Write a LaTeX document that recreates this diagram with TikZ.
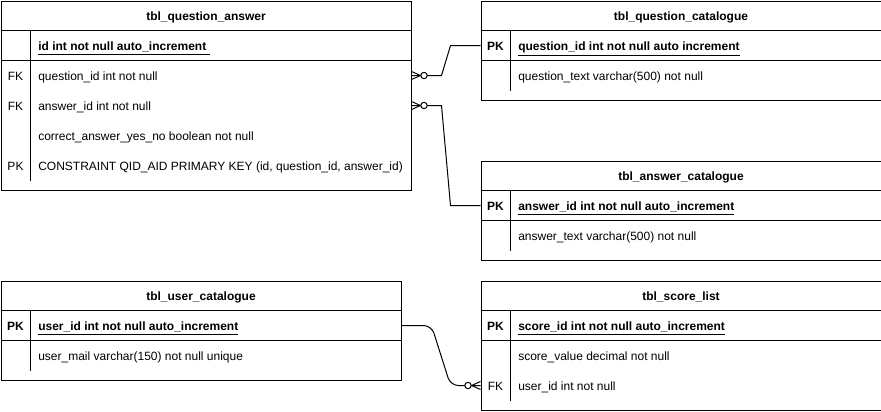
\documentclass[tikz,border=0pt]{standalone}
\usepackage{fontspec}
\setmainfont{Liberation Sans}
\usetikzlibrary{calc, positioning}

\begin{document}
\begin{tikzpicture}[
    x=0.75pt, y=-0.75pt,
    every node/.style={font=\fontsize{9}{11}\selectfont},
    tbl/.style={draw, line width=0.75pt, anchor=north west, inner sep=0pt},
    title/.style={inner sep=0pt, text height=8pt, text depth=0.5pt, font=\fontsize{9}{11}\selectfont\bfseries},
    key/.style={inner sep=0pt, text height=8pt, text depth=0.5pt},
    field/.style={anchor=west, inner sep=0pt, text height=8pt, text depth=0.5pt},
    rule/.style={line width=0.75pt},
    rel/.style={line width=0.75pt},
    zmany/.pic={
      \draw[rel] (0,-4) -- (9,0) -- (0,4);
      \draw[rel, fill=white] (12.5,0) circle[radius=2.4pt];
    },
]
\useasboundingbox (0,0) rectangle (881,411);

% tbl_question_answer
\node[tbl, minimum width=307.5pt, minimum height=142pt] (qa) at (0.5,0.5) {};
\node[title] (qa-title) at ($(qa.north)+(0,15)$) {tbl\_question\_answer};
\draw[rule] ($(qa.north west)+(0,30)$) -- ($(qa.north east)+(0,30)$);
\draw[rule] ($(qa.north west)+(0,60)$) -- ($(qa.north east)+(0,60)$);
\draw[rule] ($(qa.north west)+(30,30)$) -- ($(qa.north west)+(30,180)$);
\node[field] (qa-id) at ($(qa.north west)+(37.5,45)$) {\textbf{\underline{id int not null auto\_increment\ }}};
\node[key] (qa-k1) at ($(qa.north west)+(15,75)$) {FK};
\node[field] (qa-qid) at ($(qa.north west)+(37.5,75)$) {question\_id int not null};
\node[key] (qa-k2) at ($(qa.north west)+(15,105)$) {FK};
\node[field] (qa-aid) at ($(qa.north west)+(37.5,105)$) {answer\_id int not null};
\node[field] (qa-yn) at ($(qa.north west)+(37.5,135)$) {correct\_answer\_yes\_no boolean not null};
\node[key] (qa-k3) at ($(qa.north west)+(15,165)$) {PK};
\node[field] (qa-con) at ($(qa.north west)+(37.5,165)$) {CONSTRAINT QID\_AID PRIMARY KEY (id, question\_id, answer\_id)};

% tbl_question_catalogue
\node[tbl, minimum width=300pt, minimum height=74.5pt] (qc) at (480.5,0.5) {};
\node[title] (qc-title) at ($(qc.north)+(0,15)$) {tbl\_question\_catalogue};
\draw[rule] ($(qc.north west)+(0,30)$) -- ($(qc.north east)+(0,30)$);
\draw[rule] ($(qc.north west)+(0,60)$) -- ($(qc.north east)+(0,60)$);
\draw[rule] ($(qc.north west)+(30,30)$) -- ($(qc.north west)+(30,90)$);
\node[key, font=\fontsize{9}{11}\selectfont\bfseries] (qc-k1) at ($(qc.north west)+(15,45)$) {PK};
\node[field] (qc-id) at ($(qc.north west)+(37.5,45)$) {\textbf{\underline{question\_id int not null auto increment}}};
\node[field] (qc-txt) at ($(qc.north west)+(37.5,75)$) {question\_text varchar(500) not null};

% tbl_answer_catalogue
\node[tbl, minimum width=300pt, minimum height=74.5pt] (ac) at (480.5,160.5) {};
\node[title] (ac-title) at ($(ac.north)+(0,15)$) {tbl\_answer\_catalogue};
\draw[rule] ($(ac.north west)+(0,30)$) -- ($(ac.north east)+(0,30)$);
\draw[rule] ($(ac.north west)+(0,60)$) -- ($(ac.north east)+(0,60)$);
\draw[rule] ($(ac.north west)+(30,30)$) -- ($(ac.north west)+(30,90)$);
\node[key, font=\fontsize{9}{11}\selectfont\bfseries] (ac-k1) at ($(ac.north west)+(15,45)$) {PK};
\node[field] (ac-id) at ($(ac.north west)+(37.5,45)$) {\textbf{\underline{answer\_id int not null auto\_increment}}};
\node[field] (ac-txt) at ($(ac.north west)+(37.5,75)$) {answer\_text varchar(500) not null};

% tbl_user_catalogue
\node[tbl, minimum width=300pt, minimum height=74.5pt] (uc) at (0.5,280.5) {};
\node[title] (uc-title) at ($(uc.north)+(0,15)$) {tbl\_user\_catalogue};
\draw[rule] ($(uc.north west)+(0,30)$) -- ($(uc.north east)+(0,30)$);
\draw[rule] ($(uc.north west)+(0,60)$) -- ($(uc.north east)+(0,60)$);
\draw[rule] ($(uc.north west)+(30,30)$) -- ($(uc.north west)+(30,90)$);
\node[key, font=\fontsize{9}{11}\selectfont\bfseries] (uc-k1) at ($(uc.north west)+(15,45)$) {PK};
\node[field] (uc-id) at ($(uc.north west)+(37.5,45)$) {\textbf{\underline{user\_id int not null auto\_increment}}};
\node[field] (uc-mail) at ($(uc.north west)+(37.5,75)$) {user\_mail varchar(150) not null unique};

% tbl_score_list
\node[tbl, minimum width=300pt, minimum height=97pt] (sl) at (480.5,280.5) {};
\node[title] (sl-title) at ($(sl.north)+(0,15)$) {tbl\_score\_list};
\draw[rule] ($(sl.north west)+(0,30)$) -- ($(sl.north east)+(0,30)$);
\draw[rule] ($(sl.north west)+(0,60)$) -- ($(sl.north east)+(0,60)$);
\draw[rule] ($(sl.north west)+(30,30)$) -- ($(sl.north west)+(30,120)$);
\node[key, font=\fontsize{9}{11}\selectfont\bfseries] (sl-k1) at ($(sl.north west)+(15,45)$) {PK};
\node[field] (sl-id) at ($(sl.north west)+(37.5,45)$) {\textbf{\underline{score\_id int not null auto\_increment}}};
\node[field] (sl-val) at ($(sl.north west)+(37.5,75)$) {score\_value decimal not null};
\node[key] (sl-k2) at ($(sl.north west)+(15,105)$) {FK};
\node[field] (sl-uid) at ($(sl.north west)+(37.5,105)$) {user\_id int not null};

% Relations
\draw[rel] (qa.east |- qa-qid) -- ++(30,0) -- ($(qc.west |- qc-id)+(-30,0)$) -- (qc.west |- qc-id);
\draw[rel] (qa.east |- qa-aid) -- ++(30,0) -- ($(ac.west |- ac-id)+(-30,0)$) -- (ac.west |- ac-id);
\draw[rel, rounded corners=6pt] (uc.east |- uc-id) -- ++(30,0) -- ($(sl.west |- sl-uid)+(-30,0)$) -- (sl.west |- sl-uid);

% Zero-to-many ends
\pic at (qa.east |- qa-qid) {zmany};
\pic at (qa.east |- qa-aid) {zmany};
\pic[xscale=-1] at (sl.west |- sl-uid) {zmany};

\end{tikzpicture}
\end{document}
